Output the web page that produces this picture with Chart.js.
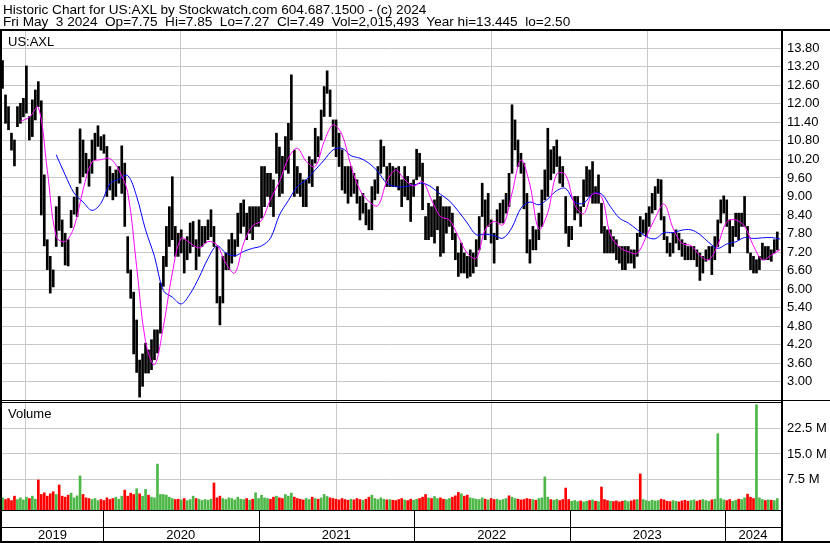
<!DOCTYPE html>
<html>
<head>
<meta charset="utf-8">
<script src="https://cdn.jsdelivr.net/npm/chart.js@4.4.1/dist/chart.umd.min.js"></script>
<style>
  body { margin: 0; background: #fff; }
  #wrap { position: relative; width: 830px; height: 543px; overflow: hidden; }
  #chart { position: absolute; left: 0; top: 0; }
  .head { position: absolute; left: 3px; font: 13.6px "Liberation Sans", Arial, sans-serif; white-space: pre; color: #000; line-height: 13px; }
</style>
</head>
<body>
<div id="wrap">
  <canvas id="chart" width="830" height="543"></canvas>
  <div class="head" style="top:3px">Historic Chart for US:AXL by Stockwatch.com 604.687.1500 - (c) 2024</div>
  <div class="head" style="top:15px">Fri May  3 2024  Op=7.75  Hi=7.85  Lo=7.27  Cl=7.49  Vol=2,015,493  Year hi=13.445  lo=2.50</div>
</div>
<script>
// weekly bars, first week ending Fri May 10 2019, last Fri May 3 2024
const weekHigh = [
  13.40,12.29,11.91,11.05,10.83,11.91,12.02,12.18,13.23,11.59,
  12.13,12.45,12.72,12.10,9.70,7.60,7.06,6.62,8.67,9.00,
  8.24,7.81,7.60,8.55,8.98,9.30,11.19,10.83,10.40,10.20,
  10.83,11.05,11.29,10.94,11.00,10.62,9.97,9.75,9.86,9.97,
  10.64,10.08,7.70,6.62,5.90,5.00,3.70,3.90,4.25,4.03,
  4.36,4.68,4.68,6.20,7.06,8.03,8.67,9.64,8.03,7.81,
  7.92,7.60,7.70,8.14,8.19,7.60,8.24,8.03,8.03,8.24,
  8.57,8.03,7.38,5.76,7.06,7.17,7.60,7.81,7.60,8.46,
  8.78,8.89,8.46,8.67,8.67,8.67,8.67,9.97,9.97,9.75,
  9.75,9.54,11.05,10.60,10.30,10.94,11.37,12.94,10.50,9.97,
  9.75,9.54,9.54,10.29,10.19,11.21,10.94,11.80,12.56,13.07,
  12.45,11.48,11.48,11.05,10.51,9.97,9.97,9.97,9.75,9.54,
  9.00,9.10,8.78,8.57,9.32,9.54,9.97,10.83,10.62,9.97,
  10.08,9.97,9.92,9.97,9.54,9.97,9.65,9.43,9.54,10.53,
  10.40,10.08,8.35,8.78,8.67,8.89,9.32,9.00,8.67,8.67,
  8.67,8.46,7.81,7.17,7.49,7.17,7.06,7.27,7.17,7.60,
  8.35,9.43,8.89,9.10,8.24,7.81,8.57,8.78,8.89,9.10,
  9.75,11.97,11.48,10.83,10.40,10.08,9.10,7.60,8.03,7.92,
  8.46,9.21,9.86,11.21,10.51,10.62,10.83,10.29,9.97,9.00,
  8.03,8.03,9.00,9.00,8.67,9.54,9.97,9.86,10.13,9.32,
  9.70,8.78,8.03,7.92,7.92,7.70,7.60,7.38,7.38,7.38,
  7.38,7.27,7.27,7.81,8.35,8.24,8.46,8.67,9.10,9.32,
  9.56,9.54,8.35,7.70,7.49,7.81,7.92,7.81,7.60,7.49,
  7.38,7.38,7.38,7.27,7.17,7.06,7.27,7.38,7.38,7.70,
  8.24,8.89,9.02,8.89,8.24,8.03,8.46,8.46,8.46,9.00,
  8.03,7.17,7.06,6.95,7.06,7.49,7.38,7.38,7.27,7.60,
  7.85
];
const weekLow = [
  12.50,11.37,11.16,10.50,9.99,11.26,11.37,11.58,11.70,10.83,
  10.94,11.48,11.91,8.40,7.40,6.63,5.87,6.07,7.38,7.90,
  7.38,6.78,6.75,7.99,8.43,8.35,9.43,9.64,9.75,9.33,
  9.75,10.19,10.62,10.50,10.40,9.00,9.21,8.89,9.00,9.43,
  9.10,8.03,6.52,5.70,3.90,3.30,2.50,2.85,3.28,3.28,
  3.39,3.71,3.93,4.57,6.09,6.73,7.38,7.60,7.06,7.06,
  7.17,6.52,6.95,7.17,7.38,6.63,7.06,7.38,7.49,7.60,
  7.70,7.38,5.55,4.84,5.55,6.63,6.63,6.84,7.06,7.38,
  7.81,8.03,7.60,7.81,7.60,8.03,8.03,8.30,8.67,9.00,
  8.67,8.35,9.75,9.00,9.10,9.86,9.75,10.83,9.00,9.10,
  9.00,8.67,8.67,9.43,9.32,10.08,10.29,10.83,11.59,12.34,
  11.59,10.62,10.29,9.97,9.21,9.10,8.78,9.00,9.10,8.78,
  8.24,8.46,8.08,7.92,7.92,8.89,9.10,9.75,9.97,9.32,
  9.32,9.32,9.32,9.21,8.67,9.00,8.89,8.19,9.00,9.54,
  9.65,8.57,7.60,7.60,7.70,7.49,7.92,7.06,7.17,7.81,
  8.03,7.60,6.95,6.41,6.52,6.52,6.36,6.41,6.52,6.73,
  7.27,8.35,7.60,8.03,7.49,6.84,7.60,8.14,8.14,8.46,
  8.67,9.75,10.51,9.97,9.75,8.60,7.17,6.84,7.27,7.27,
  7.60,8.03,8.89,9.00,9.54,9.75,9.97,9.43,9.32,7.81,
  7.38,7.60,8.24,8.46,8.03,8.67,9.00,9.00,8.78,8.78,
  8.78,7.81,7.17,7.17,7.17,7.17,6.95,6.84,6.63,6.63,
  6.84,6.84,6.68,7.06,7.70,7.81,7.70,8.03,8.46,8.57,
  9.10,8.24,7.60,7.17,7.06,7.17,7.49,7.27,7.06,6.95,
  6.95,6.95,6.95,6.73,6.28,6.52,6.90,6.95,6.47,6.95,
  7.38,8.14,8.46,8.03,7.17,7.38,7.70,7.60,8.03,8.03,
  7.17,6.63,6.52,6.52,6.63,6.95,6.95,6.95,6.90,7.17,
  7.27
];
// volume in millions, one value per week
const weekVolume = [
  2.0,1.5,1.8,1.2,2.5,1.5,2.0,1.4,2.2,1.8,2.5,1.6,7.3,3.0,3.5,2.5,3.2,3.8,3.0,5.8,
  2.5,2.2,2.8,3.4,2.0,2.6,8.5,3.0,2.0,1.8,1.5,1.8,1.2,1.5,
  1.2,2.0,1.5,1.8,2.2,1.6,2.5,4.3,2.5,3.4,3.0,4.7,3.2,2.5,4.5,2.8,2.2,2.0,12.0,3.0,
  3.0,2.8,2.2,1.8,1.5,1.6,1.4,1.8,1.2,1.5,2.5,1.8,1.6,1.2,1.5,1.3,1.6,6.4,2.0,2.5,
  1.8,1.5,2.0,1.8,1.4,2.2,1.6,1.5,1.8,1.3,1.6,3.5,1.8,
  2.8,2.0,1.8,1.6,2.2,2.5,2.0,1.8,3.0,2.5,3.4,2.2,1.8,1.6,1.4,1.8,1.5,2.2,1.8,1.6,
  2.0,3.0,2.4,2.0,1.8,1.6,1.4,1.8,1.5,1.3,1.6,1.4,1.8,1.5,1.3,1.6,2.2,2.8,1.8,1.5,
  2.0,1.6,1.4,1.5,1.3,1.2,1.5,1.8,1.4,1.2,1.6,1.3,
  1.6,1.8,2.2,3.0,2.0,1.8,2.4,1.8,2.0,1.6,1.5,1.8,2.2,2.6,3.6,3.2,2.5,2.8,2.0,1.8,
  1.6,1.5,2.0,1.6,1.4,1.8,1.5,1.6,1.3,1.5,1.8,2.6,2.2,1.8,1.6,1.4,1.5,1.8,1.6,1.5,
  1.3,1.8,2.0,8.2,2.2,1.5,1.3,1.6,1.2,1.5,4.9,1.5,
  1.0,1.2,0.9,1.1,0.8,1.0,1.2,1.4,1.0,0.9,5.2,1.5,1.2,1.0,0.9,1.1,0.8,1.0,1.2,0.9,
  1.1,1.4,1.5,9.1,1.5,1.2,1.0,1.3,1.1,1.2,1.6,1.4,1.0,0.9,1.2,1.0,0.8,1.1,1.3,1.0,
  1.2,1.4,1.0,1.3,1.5,1.2,1.0,1.4,1.6,21.0,1.8,1.4,
  1.2,1.5,1.0,1.3,1.6,1.5,2.0,3.1,2.2,1.8,29.6,2.0,1.5,1.2,1.4,1.3,1.2,1.8
];
// colour of the tall volume bars as read (r = down, g = up); others follow the weekly move
const volumeColourRead = {12:'r',19:'r',26:'g',41:'r',45:'g',48:'g',52:'g',71:'r',85:'g',
  170:'r',182:'g',189:'r',201:'r',214:'r',240:'g',250:'r',253:'g'};

// moving averages read every 3rd week
const maStep = 3;
const maFastFrom = 6;
const maFast = [
  11.43,11.57,11.89,9.86,7.70,7.54,8.01,9.21,10.12,10.19,10.23,9.86,9.13,
  6.73,4.30,3.55,4.79,6.52,7.65,7.49,7.33,7.54,7.43,6.84,6.52,7.49,8.05,
  8.22,8.91,9.48,10.24,10.56,10.13,9.97,10.78,11.32,11.00,9.99,9.21,8.84,8.70,9.48,
  9.86,9.54,9.34,9.48,8.89,8.35,8.24,7.70,7.16,7.00,7.92,8.19,8.08,9.11,
  10.18,9.38,7.94,8.48,9.73,9.70,8.73,8.44,9.08,9.00,7.76,7.36,7.21,7.16,7.70,
  8.30,8.76,7.97,7.48,7.41,7.09,6.95,7.43,8.18,8.24,8.03,7.40,6.95,7.10,7.28
];
const maSlowFrom = 18;
const maSlow = [
  10.35,9.70,9.11,8.82,8.55,8.78,9.41,9.56,9.68,
  9.00,7.92,7.06,5.95,5.74,5.52,5.85,6.38,6.99,7.40,7.17,7.08,7.22,7.32,
  7.40,7.65,8.40,8.87,9.32,9.54,9.86,10.18,10.51,10.56,10.32,10.24,10.08,9.81,9.43,
  9.32,9.32,9.37,9.43,9.30,9.07,8.86,8.52,8.14,7.76,7.78,7.73,7.65,8.00,
  8.62,8.82,8.73,8.92,9.19,9.26,8.82,8.78,9.08,9.08,8.67,8.30,8.14,7.92,7.70,
  7.63,7.83,7.83,7.91,7.92,7.77,7.51,7.32,7.46,7.53,7.67,7.64,7.66,7.67,7.62
];

const priceTicks = [3.00,3.60,4.20,4.80,5.40,6.00,6.60,7.20,7.80,8.40,9.00,9.60,10.20,10.80,11.40,12.00,12.60,13.20,13.80];
const volumeTicks = [7.5, 15.0, 22.5];
const yearLabels = [2019, 2020, 2021, 2022, 2023, 2024];

const firstWeek = Date.UTC(2019, 4, 10);
function weekToYear(i) {
  const t = firstWeek + i * 7 * 864e5;
  const y = new Date(t).getUTCFullYear();
  const a = Date.UTC(y, 0, 1), b = Date.UTC(y + 1, 0, 1);
  return y + (t - a) / (b - a);
}

const FONT = '"Liberation Sans", Arial, sans-serif';

const priceData = weekHigh.map((h, i) => ({ x: weekToYear(i), y: [weekLow[i], h] }));
const volumeData = weekVolume.map((v, i) => ({ x: weekToYear(i), y: v }));
const volumeColours = weekVolume.map((v, i) => {
  let d = volumeColourRead[i];
  if (!d) {
    const mid = (weekHigh[i] + weekLow[i]) / 2;
    const prev = i ? (weekHigh[i - 1] + weekLow[i - 1]) / 2 : mid;
    d = mid >= prev ? 'g' : 'r';
  }
  return d === 'g' ? '#4db848' : '#ff0000';
});
const fastData = maFast.map((v, k) => ({ x: weekToYear(maFastFrom + k * maStep), y: v }));
const slowData = maSlow.map((v, k) => ({ x: weekToYear(maSlowFrom + k * maStep), y: v }));

const framePlugin = {
  id: 'frame',
  afterDraw(chart) {
    const { ctx, chartArea: a, scales } = chart;
    const x = scales.x, yv = scales.yv;
    ctx.save();
    ctx.fillStyle = '#000';
    ctx.fillRect(0, 29, 830, 2);
    ctx.fillRect(0, 29, 2, 514);
    ctx.fillRect(a.right, 29, 2, 514);
    ctx.fillRect(0, Math.round(yv.top) - 1, 830, 1);
    ctx.fillRect(0, Math.round(yv.top) + 1, a.right, 1);
    ctx.fillRect(0, Math.round(a.bottom), a.right, 1);
    ctx.fillRect(0, 527, a.right, 1);
    ctx.fillRect(0, 541, 830, 2);
    yearLabels.slice(1).forEach(y => {
      const px = Math.round(x.getPixelForValue(y));
      ctx.fillRect(px, Math.round(a.bottom), 1, 543 - a.bottom);
    });
    ctx.font = '13px ' + FONT;
    ctx.textBaseline = 'middle';
    ctx.fillText('US:AXL', 8, 42);
    ctx.fillText('Volume', 8, 414);
    ctx.textAlign = 'center';
    yearLabels.forEach(y => {
      const l = x.getPixelForValue(Math.max(y, x.min));
      const r = x.getPixelForValue(Math.min(y + 1, x.max));
      ctx.fillText(String(y), (l + r) / 2, 535);
    });
    ctx.restore();
  }
};

new Chart(document.getElementById('chart'), {
  type: 'bar',
  data: {
    datasets: [
      { type: 'line', data: fastData, yAxisID: 'yp', borderColor: '#ff00ff', borderWidth: 1, pointRadius: 0, tension: 0.35, order: 0 },
      { type: 'line', data: slowData, yAxisID: 'yp', borderColor: '#0000ff', borderWidth: 1, pointRadius: 0, tension: 0.35, order: 0 },
      { data: priceData, yAxisID: 'yp', backgroundColor: '#000', barThickness: 2, grouped: false, order: 1 },
      { data: volumeData, yAxisID: 'yv', backgroundColor: volumeColours, barThickness: 2, grouped: false, base: -1.6, order: 1 }
    ]
  },
  options: {
    responsive: false,
    animation: false,
    devicePixelRatio: 1,
    layout: { padding: { left: 2, top: 31, bottom: 33, right: 0 }, autoPadding: false },
    plugins: { legend: { display: false }, tooltip: { enabled: false } },
    scales: {
      x: {
        type: 'linear', min: 2019.35, max: 2024.36, offset: false,
        ticks: { display: false },
        grid: { color: '#c8c8c8', drawTicks: false },
        border: { display: false },
        afterBuildTicks: s => { s.ticks = yearLabels.slice(1).map(v => ({ value: v })); },
        afterFit: s => { s.height = 0; }
      },
      yp: {
        type: 'linear', position: 'right', stack: 'panes', stackWeight: 370, weight: 1,
        min: 2.375, max: 14.36,
        grid: { color: '#c8c8c8', drawTicks: false },
        border: { display: false },
        ticks: { color: '#000', padding: 6, autoSkip: false, font: { family: FONT, size: 13 }, callback: v => v.toFixed(2) },
        afterBuildTicks: s => { s.ticks = priceTicks.map(v => ({ value: v })); },
        afterFit: s => { s.width = 49; }
      },
      yv: {
        type: 'linear', position: 'right', stack: 'panes', stackWeight: 109, weight: 2,
        min: -1.6, max: 30.7,
        grid: { color: '#c8c8c8', drawTicks: false },
        border: { display: false },
        ticks: { color: '#000', padding: 6, autoSkip: false, font: { family: FONT, size: 13 }, callback: v => v.toFixed(1) + ' M' },
        afterBuildTicks: s => { s.ticks = volumeTicks.map(v => ({ value: v })); },
        afterFit: s => { s.width = 49; }
      }
    }
  },
  plugins: [framePlugin]
});
</script>
</body>
</html>
